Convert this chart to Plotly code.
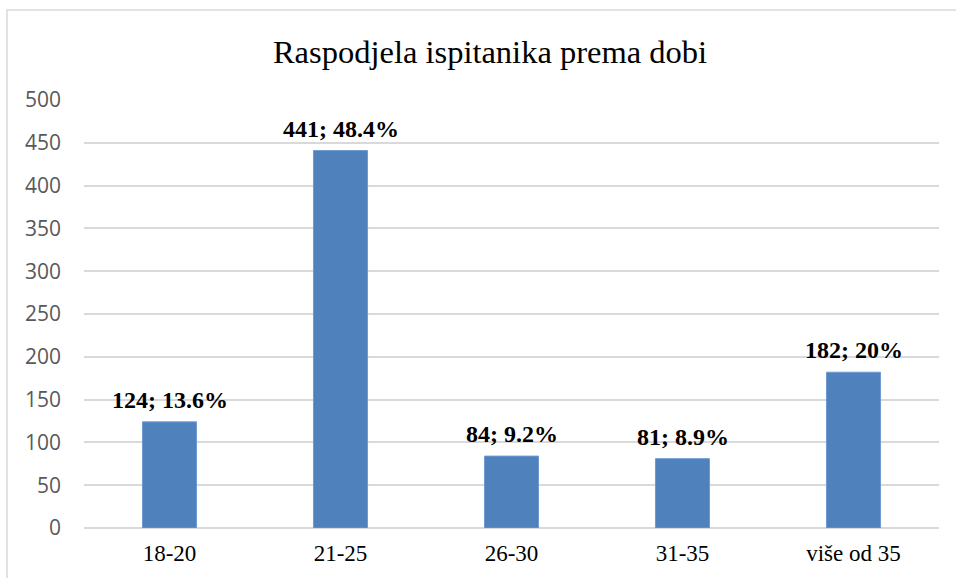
import plotly.graph_objects as go

categories = ["18-20", "21-25", "26-30", "31-35", "više od 35"]
counts = [124, 441, 84, 81, 182]
percents = ["13.6%", "48.4%", "9.2%", "8.9%", "20%"]
y_ticks = [0, 50, 100, 150, 200, 250, 300, 350, 400, 450, 500]
title_text = "Raspodjela ispitanika prema dobi"

bar_color = "rgb(79,129,189)"
serif = "Liberation Serif, Times New Roman, serif"

fig = go.Figure()
fig.add_trace(go.Bar(
    x=categories, y=counts,
    marker=dict(color=bar_color, line=dict(color="rgb(110,155,210)", width=1)),
    hoverinfo="skip",
))

annotations = []
for c, v, p in zip(categories, counts, percents):
    annotations.append(dict(
        x=c, y=v, xref="x", yref="y",
        text=f"<b>{v}; {p}</b>", showarrow=False,
        yanchor="bottom", yshift=7,
        font=dict(family=serif, size=24, color="black"),
    ))

fig.update_layout(
    width=956, height=578,
    margin=dict(l=84, r=17, t=100, b=50, pad=0),
    paper_bgcolor="white", plot_bgcolor="white",
    title=dict(text=title_text, x=490 / 956, xref="container", xanchor="center",
               y=1 - 52 / 578, yanchor="middle",
               font=dict(family=serif, size=32.5, color="black")),
    bargap=0.684,
    showlegend=False,
    annotations=annotations,
    xaxis=dict(
        showgrid=False, showline=False, zeroline=False,
        tickfont=dict(family=serif, size=23, color="black"),
        ticks="", ticklabelstandoff=9,
    ),
    yaxis=dict(
        range=[0, 500], tickvals=y_ticks,
        showgrid=True, gridcolor="rgb(217,217,217)", gridwidth=1.5,
        zeroline=True, zerolinecolor="rgb(217,217,217)", zerolinewidth=1.5,
        showline=False,
        tickfont=dict(family="Open Sans, Liberation Sans, sans-serif", size=21, color="rgb(89,89,89)"),
        ticks="", ticklabelstandoff=22,
    ),
    shapes=[dict(
        type="rect", xref="paper", yref="paper",
        x0=(7 - 84) / 855, x1=(962 - 84) / 855,
        y0=(528 - 584) / 428, y1=(528 - 10) / 428,
        line=dict(color="rgb(217,217,217)", width=1.5),
        fillcolor="rgba(0,0,0,0)", layer="below",
    )],
)

fig.write_html(
    "out.html",
    config={"displayModeBar": False},
    post_script="document.body.style.margin='0';document.body.style.overflow='hidden';",
)
